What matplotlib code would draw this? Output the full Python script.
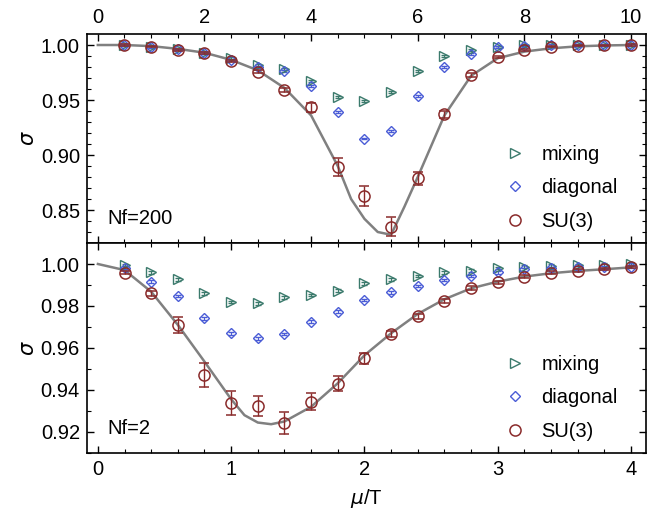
import numpy as np
import matplotlib
matplotlib.use("Agg")
from matplotlib import pyplot as plt

plt.rcParams['font.family'] = ['Liberation Sans', 'DejaVu Sans']
plt.rcParams['mathtext.fontset'] = 'dejavusans'

# ---- top panel (Nf=200), x in top-axis units 0..10
x_top = [0.5, 1.0, 1.5, 2.0, 2.5, 3.0, 3.5, 4.0, 4.5, 5.0,
         5.5, 6.0, 6.5, 7.0, 7.5, 8.0, 8.5, 9.0, 9.5, 10.0]
su3_top = [1.000, 0.9985, 0.9955, 0.993, 0.9857, 0.9757, 0.959, 0.9433, 0.889, 0.863,
           0.835, 0.879, 0.937, 0.9727, 0.9888, 0.9955, 0.9985, 0.9995, 0.9998, 1.000]
su3_top_err = [0.0005, 0.0005, 0.0008, 0.001, 0.001, 0.0015, 0.002, 0.004, 0.008, 0.009,
               0.009, 0.006, 0.003, 0.002, 0.001, 0.001, 0.0005, 0.0005, 0.0005, 0.0005]
diag_top = [1.000, 0.9985, 0.996, 0.993, 0.986, 0.980, 0.9767, 0.9627, 0.9388, 0.915,
            0.922, 0.9536, 0.9797, 0.9915, 0.998, 0.9994, 0.9998, 1.000, 1.000, 1.000]
mix_top = [1.000, 0.9985, 0.996, 0.993, 0.988, 0.9818, 0.978, 0.9676, 0.9524, 0.949,
           0.9576, 0.9767, 0.9903, 0.9955, 0.998, 1.000, 1.000, 1.000, 1.000, 1.000]
curve_top_x = [0, 0.5, 1.0, 1.5, 2.0, 2.5, 3.0, 3.5, 4.0, 4.5, 4.75, 5.0, 5.25,
               5.5, 5.75, 6.0, 6.5, 7.0, 7.5, 8.0, 8.5, 9.0, 9.5, 10.0]
curve_top_y = [1.000, 1.000, 0.999, 0.9965, 0.993, 0.9865, 0.977, 0.961, 0.936, 0.890, 0.860,
               0.842, 0.830, 0.8275, 0.853, 0.880, 0.936, 0.972, 0.988, 0.994, 0.997,
               0.9988, 0.9996, 1.000]

# ---- bottom panel (Nf=2), x = mu/T
x_bot = [0.2, 0.4, 0.6, 0.8, 1.0, 1.2, 1.4, 1.6, 1.8, 2.0,
         2.2, 2.4, 2.6, 2.8, 3.0, 3.2, 3.4, 3.6, 3.8, 4.0]
su3_bot = [0.9959, 0.986, 0.971, 0.9471, 0.9337, 0.9324, 0.9244, 0.9344, 0.9429, 0.9551,
           0.9667, 0.9752, 0.9825, 0.9884, 0.9913, 0.994, 0.9959, 0.9968, 0.9975, 0.9984]
su3_bot_err = [0.0008, 0.001, 0.0038, 0.0056, 0.0058, 0.0048, 0.0052, 0.004, 0.0036, 0.0025,
               0.0015, 0.0012, 0.001, 0.001, 0.0008, 0.0008, 0.0006, 0.0006, 0.0005, 0.0005]
diag_bot = [0.998, 0.9916, 0.9848, 0.9741, 0.967, 0.9646, 0.9667, 0.9725, 0.9773, 0.9829,
            0.9865, 0.9895, 0.9924, 0.9943, 0.996, 0.9975, 0.998, 0.9984, 0.9986, 0.9987]
mix_bot = [0.9995, 0.996, 0.9927, 0.986, 0.982, 0.9813, 0.9841, 0.9852, 0.9873, 0.9908,
           0.9927, 0.9944, 0.996, 0.9968, 0.998, 0.9987, 0.9992, 0.9995, 0.9997, 0.9998]
curve_bot_x = [0, 0.2, 0.4, 0.6, 0.8, 1.0, 1.1, 1.2, 1.3, 1.4, 1.6, 1.8, 2.0,
               2.2, 2.4, 2.6, 2.8, 3.0, 3.2, 3.4, 3.6, 3.8, 4.0]
curve_bot_y = [1.000, 0.9971, 0.9868, 0.971, 0.9535, 0.9356, 0.928, 0.9245, 0.9237, 0.925,
               0.932, 0.9432, 0.9565, 0.967, 0.9762, 0.9832, 0.9884, 0.9916, 0.994,
               0.9956, 0.9967, 0.9975, 0.9984]

c_mix = "#3b7a6c"
c_diag = "#4a5cd6"
c_su3 = "#8a2b2b"
c_line = "#808080"

fig = plt.figure(figsize=(6.68, 5.13), dpi=100)
ax1 = fig.add_axes([0.130, 0.5263, 0.837, 0.4074])
ax2 = fig.add_axes([0.130, 0.117, 0.837, 0.4093])


def draw(ax, x, mix, diag, su3, su3_err, cx, cy, small_err):
    ax.plot(cx, cy, color=c_line, lw=1.8, zorder=1)
    ax.errorbar(x, mix, yerr=small_err, fmt='>', mfc='none', mec=c_mix, ecolor=c_mix,
                ms=6.5, mew=1.0, capsize=2.5, elinewidth=0.8, label='mixing', zorder=3)
    ax.errorbar(x, diag, yerr=small_err, fmt='D', mfc='none', mec=c_diag, ecolor=c_diag,
                ms=5.5, mew=1.0, capsize=2.5, elinewidth=0.8, label='diagonal', zorder=3)
    ax.errorbar(x, su3, yerr=su3_err, fmt='o', mfc='none', mec=c_su3, ecolor=c_su3,
                ms=8, mew=1.1, capsize=3.5, elinewidth=1.0, label='SU(3)', zorder=4)
    ax.tick_params(which='both', direction='in', top=True, right=True, labelsize=14.5, pad=5)
    ax.tick_params(which='major', length=5, width=1)
    ax.tick_params(which='minor', length=3, width=0.8)
    for s in ax.spines.values():
        s.set_linewidth(1.2)
    handles, labels = ax.get_legend_handles_labels()
    handles = [h[0] for h in handles]
    ax.legend(handles, labels, loc='lower right', frameon=False, fontsize=14.5,
              handlelength=1.0, handletextpad=0.8, labelspacing=0.72,
              borderaxespad=0, bbox_to_anchor=(0.964, 0.02))


draw(ax1, x_top, mix_top, diag_top, su3_top, su3_top_err, curve_top_x, curve_top_y, 0.0008)
draw(ax2, x_bot, mix_bot, diag_bot, su3_bot, su3_bot_err, curve_bot_x, curve_bot_y, 0.0006)

ax1.set_xlim(-0.206, 10.28)
ax1.set_ylim(0.820, 1.010)
ax1.set_xticks(np.arange(0, 11, 2))
ax1.set_xticks(np.arange(0, 10.5, 0.5), minor=True)
ax1.set_yticks([0.85, 0.90, 0.95, 1.00])
ax1.set_yticks(np.arange(0.83, 1.005, 0.01), minor=True)
ax1.yaxis.set_major_formatter(matplotlib.ticker.FormatStrFormatter('%.2f'))
ax1.tick_params(labelbottom=False, labeltop=True)
ax1.set_ylabel(r'$\sigma$', fontsize=15, labelpad=2)
ax1.text(0.036, 0.09, 'Nf=200', transform=ax1.transAxes, fontsize=14.5)

ax2.set_xlim(-0.083, 4.113)
ax2.set_ylim(0.910, 1.010)
ax2.set_xticks([0, 1, 2, 3, 4])
ax2.set_xticks(np.arange(0, 4.1, 0.2), minor=True)
ax2.set_yticks([0.92, 0.94, 0.96, 0.98, 1.00])
ax2.set_yticks(np.arange(0.91, 1.005, 0.01), minor=True)
ax2.yaxis.set_major_formatter(matplotlib.ticker.FormatStrFormatter('%.2f'))
ax2.set_ylabel(r'$\sigma$', fontsize=15, labelpad=2)
ax2.set_xlabel(r'$\mu$/T', fontsize=14.5, labelpad=6)
ax2.text(0.036, 0.09, 'Nf=2', transform=ax2.transAxes, fontsize=14.5)

fig.align_ylabels([ax1, ax2])
fig.savefig("out.png", dpi=100)
